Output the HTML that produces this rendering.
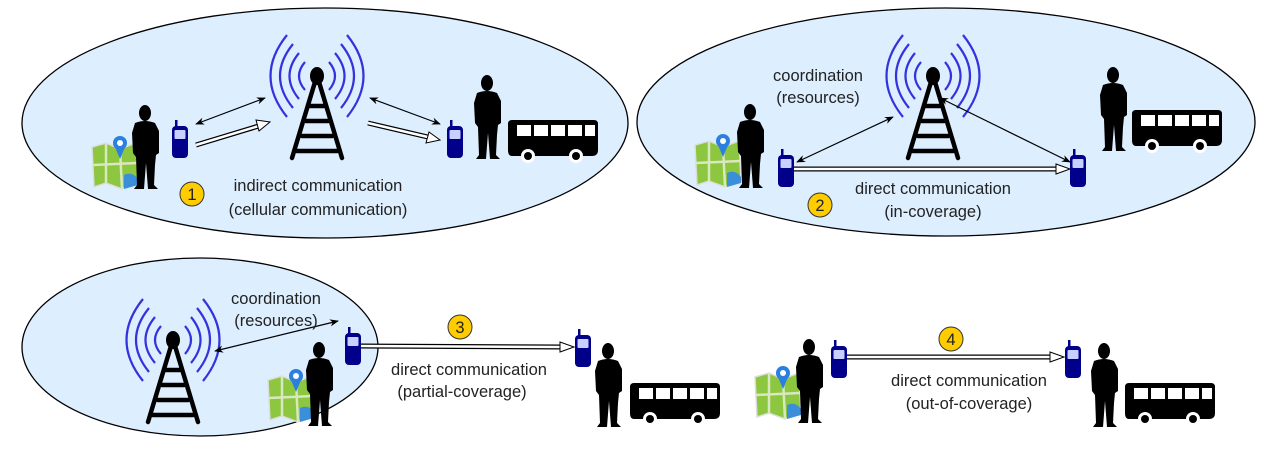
<!DOCTYPE html>
<html><head><meta charset="utf-8"><style>
html,body{margin:0;padding:0;background:#fff;width:1272px;height:468px;overflow:hidden}
text{font-family:"Liberation Sans",Arial,sans-serif;font-size:16.5px;fill:#222;text-anchor:middle}
</style></head><body>
<svg width="1272" height="468" viewBox="0 0 1272 468" xmlns="http://www.w3.org/2000/svg">
<defs>
<symbol id="tower" overflow="visible">
  <g fill="none" stroke="#3333dd" stroke-width="2.2">
    <path d="M-12,-14 Q-24,0 -12,14"/><path d="M12,-14 Q24,0 12,14"/>
    <path d="M-18,-23 Q-37,0 -18,23"/><path d="M18,-23 Q37,0 18,23"/>
    <path d="M-24,-32 Q-50,0 -24,32"/><path d="M24,-32 Q50,0 24,32"/>
    <path d="M-30,-41 Q-63,0 -30,41"/><path d="M30,-41 Q63,0 30,41"/>
  </g>
  <ellipse cx="0" cy="0" rx="7" ry="9" fill="#000"/>
  <g stroke="#000" stroke-width="4.5" fill="none" stroke-linecap="round">
    <path d="M-2,6 L-25,82 M2,6 L25,82"/>
    <path d="M-7,30 H7 M-11,45 H11 M-15,60 H15 M-20,75 H20"/>
  </g>
</symbol>
<symbol id="person" overflow="visible">
  <g fill="#000">
    <ellipse cx="14" cy="8" rx="6" ry="8"/>
    <path d="M4,18 Q14,14 24,18 L28,26 L28,48 L25,50 L24,60 L23,80 L27,84 L17,84 L15,58 L13,84 L3,84 L6,80 L5,52 L2,48 L1,28 Z"/>
  </g>
</symbol>
<symbol id="phone" overflow="visible">
  <rect x="3" y="0" width="2.5" height="8" fill="#00008b"/>
  <rect x="0" y="6" width="16" height="32" rx="4" fill="#00008b"/>
  <rect x="2.5" y="10" width="11" height="9" rx="1" fill="#c8d0ff"/>
</symbol>
<symbol id="bus" overflow="visible">
  <path d="M4,0 H86 Q90,0 90,4 V30 Q90,36 84,36 H4 Q0,36 0,30 V4 Q0,0 4,0 Z" fill="#000"/>
  <g fill="#fff"><rect x="9" y="5" width="14" height="11"/><rect x="26" y="5" width="14" height="11"/><rect x="43" y="5" width="14" height="11"/><rect x="60" y="5" width="14" height="11"/><rect x="77" y="5" width="10" height="11"/>
  <circle cx="20" cy="36" r="7"/><circle cx="68" cy="36" r="7"/></g>
  <circle cx="20" cy="36" r="4" fill="#000"/><circle cx="68" cy="36" r="4" fill="#000"/>
</symbol>
<symbol id="map" overflow="visible">
  <path d="M0,12 L14,8 L28,14 L44,8 L46,48 L30,54 L14,48 L2,52 Z" fill="#8dc63f" stroke="#ddd" stroke-width="1.5"/>
  <path d="M14,8 L14,48 M28,14 L30,54 M1,30 L45,28" stroke="#d8e8c0" stroke-width="2.5"/>
  <path d="M32,40 Q40,36 46,44 L46,50 L32,54 Z" fill="#3a8fd8"/>
  <circle cx="28" cy="8" r="7" fill="#2a7fe0"/><circle cx="28" cy="8" r="3" fill="#fff"/>
  <path d="M23,12 L28,24 L33,12 Z" fill="#2a7fe0"/>
</symbol>
<marker id="ah" viewBox="0 0 10 10" refX="9" refY="5" markerWidth="9" markerHeight="9" orient="auto-start-reverse" markerUnits="userSpaceOnUse"><path d="M0,1 L10,5 L0,9 L3,5 Z" fill="#000"/></marker>
<symbol id="badge" overflow="visible"><circle r="12" fill="#ffcc00" stroke="#333" stroke-width="1"/></symbol>
</defs>

<ellipse cx="325" cy="123" rx="303" ry="115" fill="#ddeeff" stroke="#000" stroke-width="1.3"/>
<ellipse cx="946" cy="122" rx="309" ry="114" fill="#ddeeff" stroke="#000" stroke-width="1.3"/>
<ellipse cx="200" cy="347" rx="178" ry="89" fill="#ddeeff" stroke="#000" stroke-width="1.3"/>

<use href="#tower" x="317" y="76"/>
<use href="#tower" x="933" y="76"/>
<use href="#tower" x="173" y="340"/>

<use href="#map" x="92" y="135"/>
<use href="#map" x="695" y="133"/>
<use href="#map" x="268" y="368"/>
<use href="#map" x="755" y="365"/>

<use href="#person" x="131" y="105"/>
<use href="#person" x="473" y="75"/>
<use href="#person" x="736" y="104"/>
<use href="#person" x="1099" y="67"/>
<use href="#person" x="305" y="342"/>
<use href="#person" x="594" y="343"/>
<use href="#person" x="795" y="339"/>
<use href="#person" x="1090" y="343"/>

<use href="#phone" x="172" y="120"/>
<use href="#phone" x="447" y="120"/>
<use href="#phone" x="778" y="149"/>
<use href="#phone" x="1070" y="149"/>
<use href="#phone" x="345" y="327"/>
<use href="#phone" x="575" y="329"/>
<use href="#phone" x="831" y="340"/>
<use href="#phone" x="1065" y="340"/>

<use href="#bus" x="508" y="120"/>
<use href="#bus" x="1132" y="110"/>
<use href="#bus" x="630" y="383"/>
<use href="#bus" x="1125" y="383"/>

<g stroke="#000" stroke-width="1.2" fill="none">
  <line x1="196" y1="124" x2="265" y2="98" marker-start="url(#ah)" marker-end="url(#ah)"/>
  <line x1="370" y1="98" x2="440" y2="124" marker-start="url(#ah)" marker-end="url(#ah)"/>
  <line x1="797" y1="162" x2="893" y2="117" marker-start="url(#ah)" marker-end="url(#ah)"/>
  <line x1="940" y1="98" x2="1070" y2="162" marker-start="url(#ah)" marker-end="url(#ah)"/>
  <line x1="215" y1="351" x2="338" y2="321" marker-start="url(#ah)" marker-end="url(#ah)"/>
</g>
<g stroke-linejoin="miter">
  <g><path d="M196,145 L262,125" stroke="#000" stroke-width="5"/><path d="M196,145 L262,125" stroke="#fff" stroke-width="2.5"/><path d="M256,120 L270,122 L259,131 Z" fill="#fff" stroke="#000"/></g>
  <g><path d="M368,123 L432,138" stroke="#000" stroke-width="5"/><path d="M368,123 L432,138" stroke="#fff" stroke-width="2.5"/><path d="M429,132 L440,140 L426,143 Z" fill="#fff" stroke="#000"/></g>
  <g><path d="M794,169 L1060,169" stroke="#000" stroke-width="5"/><path d="M794,169 L1060,169" stroke="#fff" stroke-width="2.5"/><path d="M1056,164 L1070,169 L1056,174 Z" fill="#fff" stroke="#000"/></g>
  <g><path d="M361,346 L564,347" stroke="#000" stroke-width="5"/><path d="M361,346 L564,347" stroke="#fff" stroke-width="2.5"/><path d="M560,342 L574,347 L560,352 Z" fill="#fff" stroke="#000"/></g>
  <g><path d="M847,357 L1054,357" stroke="#000" stroke-width="5"/><path d="M847,357 L1054,357" stroke="#fff" stroke-width="2.5"/><path d="M1050,352 L1064,357 L1050,362 Z" fill="#fff" stroke="#000"/></g>
</g>

<g><use href="#badge" x="192" y="194"/><text x="192" y="200">1</text></g>
<g><use href="#badge" x="820" y="205"/><text x="820" y="211">2</text></g>
<g><use href="#badge" x="460" y="327"/><text x="460" y="333">3</text></g>
<g><use href="#badge" x="951" y="339"/><text x="951" y="345">4</text></g>

<text x="318" y="191">indirect communication</text>
<text x="318" y="215">(cellular communication)</text>
<text x="818" y="81">coordination</text>
<text x="818" y="103">(resources)</text>
<text x="933" y="194">direct communication</text>
<text x="933" y="217">(in-coverage)</text>
<text x="276" y="304">coordination</text>
<text x="276" y="326">(resources)</text>
<text x="469" y="375">direct communication</text>
<text x="462" y="397">(partial-coverage)</text>
<text x="969" y="386">direct communication</text>
<text x="969" y="409">(out-of-coverage)</text>
</svg>
</body></html>
